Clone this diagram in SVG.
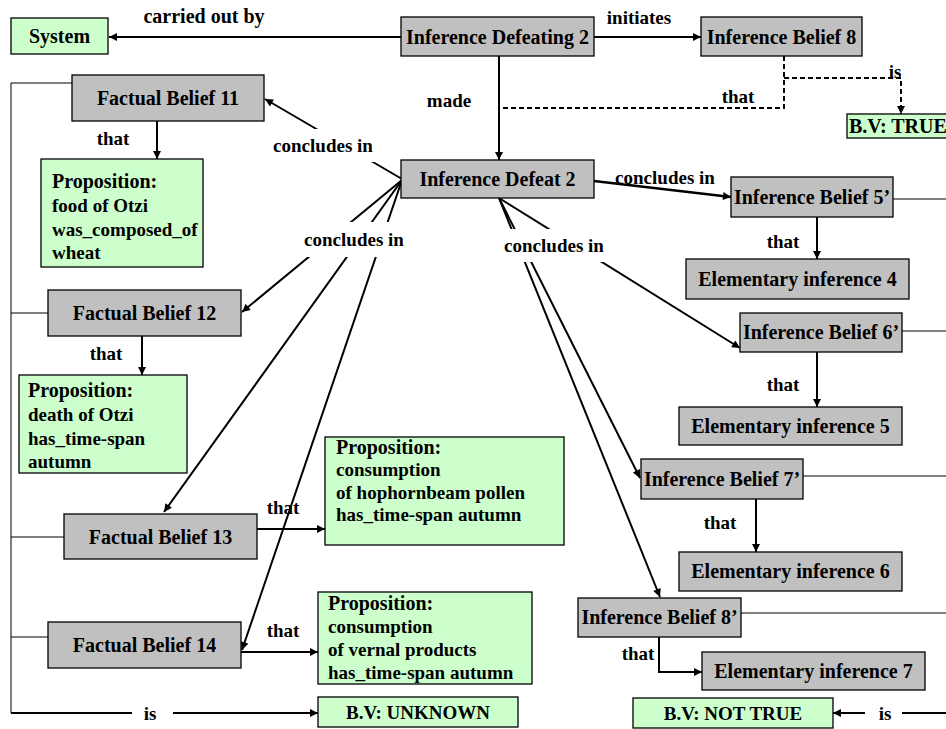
<svg xmlns="http://www.w3.org/2000/svg" width="946" height="729" viewBox="0 0 946 729">
  <defs>
    <marker id="arrow" viewBox="0 0 10 10" refX="10" refY="5" markerWidth="9" markerHeight="8" markerUnits="userSpaceOnUse" orient="auto">
      <path d="M0,0 L10,5 L0,10 z" fill="#000"/>
    </marker>
    <style>
      text { font-family: "Liberation Serif", "Times New Roman", serif; font-weight: bold; fill: #000; }
      .node { font-size: 20px; text-anchor: middle; }
      .prop { font-size: 19px; }
      .prop .head { font-size: 20px; }
      .lbl { font-size: 19px; }
      .bv { font-size: 19px; text-anchor: middle; }
      .grey { fill: #c0c0c0; stroke: #000; stroke-width: 1.3; }
      .green { fill: #ccffcc; stroke: #000; stroke-width: 1.3; }
      .edge { fill: none; stroke: #000; stroke-width: 2; }
      .arr { marker-end: url(#arrow); }
      .thin { fill: none; stroke: #000; stroke-width: 1; }
      .dash { fill: none; stroke: #000; stroke-width: 2; stroke-dasharray: 5 3; }
      .gap { fill: #fff; stroke: none; }
    </style>
  </defs>

  <rect width="946" height="729" fill="#fff"/>

  <!-- connectors -->
  <g id="connectors">
    <!-- bracket on the left joining the factual beliefs -->
    <path class="thin" d="M72,83 H11 V713"/>
    <path class="thin" d="M48,313 H11"/>
    <path class="thin" d="M64,537 H11"/>
    <path class="thin" d="M48,637 H11"/>
    <path class="edge arr" d="M11,713 H318"/>

    <!-- lines leaving the inference beliefs to the right -->
    <path class="thin" d="M893,199 H946"/>
    <path class="thin" d="M902,331 H946"/>
    <path class="thin" d="M803,476 H946"/>
    <path class="thin" d="M741,613 H946"/>
    <path class="edge arr" d="M946,713 H833"/>

    <!-- top row -->
    <path class="edge arr" d="M401,37 H109"/>
    <path class="edge arr" d="M594,37 H701"/>
    <path class="edge arr" d="M499,56 V160"/>

    <!-- dashed links from Inference Belief 8 -->
    <path class="dash" d="M784,56 V108 H499"/>
    <path class="dash arr" d="M784,78 H901 V114"/>

    <!-- fan from Inference Defeat 2 to the factual beliefs -->
    <path class="edge arr" d="M402,179 L265,99"/>
    <path class="edge arr" d="M402,180 L242,312"/>
    <path class="edge arr" d="M402,180 L164,512"/>
    <path class="edge arr" d="M402,180 L242,650"/>

    <!-- fan from Inference Defeat 2 to the inference beliefs -->
    <path class="edge arr" d="M594,181 L731,197" style="stroke-width:2.5"/>
    <path class="edge arr" d="M499,198 L740,348"/>
    <path class="edge arr" d="M499,198 L640,478"/>
    <path class="edge arr" d="M499,198 L660,597"/>

    <!-- "that" links -->
    <path class="edge arr" d="M157,121 V159"/>
    <path class="edge arr" d="M142,336 V375"/>
    <path class="edge arr" d="M257,529 H325"/>
    <path class="edge arr" d="M241,652 H318"/>
    <path class="edge arr" d="M817,217 V259"/>
    <path class="edge arr" d="M817,352 V407"/>
    <path class="edge arr" d="M756,499 V552"/>
    <path class="edge arr" d="M659,637 V672 H702"/>

    <!-- label backgrounds that break the lines -->
    <rect class="gap" x="272" y="129" width="104" height="33"/>
    <rect class="gap" x="301" y="222" width="106" height="35"/>
    <rect class="gap" x="501" y="229" width="106" height="33"/>
    <rect class="gap" x="132" y="705" width="41" height="16"/>
    <rect class="gap" x="865" y="705" width="37" height="16"/>

    <!-- connector labels -->
    <text class="lbl" x="204" y="23" text-anchor="middle" style="font-size:20px">carried out by</text>
    <text class="lbl" x="639" y="24" text-anchor="middle">initiates</text>
    <text class="lbl" x="449" y="107" text-anchor="middle">made</text>
    <text class="lbl" x="738" y="103" text-anchor="middle">that</text>
    <text class="lbl" x="895" y="78" text-anchor="middle">is</text>
    <text class="lbl" x="323" y="152" text-anchor="middle">concludes in</text>
    <text class="lbl" x="354" y="246" text-anchor="middle">concludes in</text>
    <text class="lbl" x="554" y="252" text-anchor="middle">concludes in</text>
    <text class="lbl" x="665" y="184" text-anchor="middle">concludes in</text>
    <text class="lbl" x="113" y="145" text-anchor="middle">that</text>
    <text class="lbl" x="106" y="360" text-anchor="middle">that</text>
    <text class="lbl" x="283" y="514" text-anchor="middle">that</text>
    <text class="lbl" x="283" y="637" text-anchor="middle">that</text>
    <text class="lbl" x="783" y="248" text-anchor="middle">that</text>
    <text class="lbl" x="783" y="391" text-anchor="middle">that</text>
    <text class="lbl" x="720" y="529" text-anchor="middle">that</text>
    <text class="lbl" x="638" y="660" text-anchor="middle">that</text>
    <text class="lbl" x="150" y="720" text-anchor="middle">is</text>
    <text class="lbl" x="885" y="720" text-anchor="middle">is</text>
  </g>

  <!-- nodes -->
  <g id="system">
    <rect class="green" x="11" y="18" width="97" height="36"/>
    <text class="node" x="59.5" y="43">System</text>
  </g>
  <g id="inference-defeating-2">
    <rect class="grey" x="401" y="17" width="193" height="39"/>
    <text class="node" x="497.5" y="43.5">Inference Defeating 2</text>
  </g>
  <g id="inference-belief-8">
    <rect class="grey" x="701" y="17" width="161" height="39"/>
    <text class="node" x="781.5" y="43.5">Inference Belief 8</text>
  </g>
  <g id="bv-true">
    <rect class="green" x="847" y="114" width="113" height="24"/>
    <text class="node" x="849" y="133" text-anchor="start" style="text-anchor:start">B.V: TRUE</text>
  </g>
  <g id="inference-defeat-2">
    <rect class="grey" x="401" y="160" width="193" height="38"/>
    <text class="node" x="497.5" y="186">Inference Defeat 2</text>
  </g>

  <g id="factual-belief-11">
    <rect class="grey" x="72" y="75" width="192" height="46"/>
    <text class="node" x="168" y="105">Factual Belief 11</text>
  </g>
  <g id="proposition-food">
    <rect class="green" x="41" y="159" width="162" height="108"/>
    <text class="prop" x="52">
      <tspan class="head" x="52" y="188">Proposition:</tspan>
      <tspan x="52" y="212">food of Otzi</tspan>
      <tspan x="52" y="236">was_composed_of</tspan>
      <tspan x="52" y="259">wheat</tspan>
    </text>
  </g>
  <g id="factual-belief-12">
    <rect class="grey" x="48" y="290" width="193" height="46"/>
    <text class="node" x="144.5" y="320">Factual Belief 12</text>
  </g>
  <g id="proposition-death">
    <rect class="green" x="19" y="375" width="168" height="98"/>
    <text class="prop" x="28">
      <tspan class="head" x="28" y="397">Proposition:</tspan>
      <tspan x="28" y="421">death of Otzi</tspan>
      <tspan x="28" y="445">has_time-span</tspan>
      <tspan x="28" y="468">autumn</tspan>
    </text>
  </g>
  <g id="factual-belief-13">
    <rect class="grey" x="64" y="514" width="193" height="45"/>
    <text class="node" x="160.5" y="544">Factual Belief 13</text>
  </g>
  <g id="proposition-hophornbeam">
    <rect class="green" x="325" y="437" width="239" height="108"/>
    <text class="prop" x="336">
      <tspan class="head" x="336" y="454">Proposition:</tspan>
      <tspan x="336" y="476">consumption</tspan>
      <tspan x="336" y="499">of hophornbeam pollen</tspan>
      <tspan x="336" y="521">has_time-span autumn</tspan>
    </text>
  </g>
  <g id="factual-belief-14">
    <rect class="grey" x="48" y="622" width="193" height="46"/>
    <text class="node" x="144.5" y="652">Factual Belief 14</text>
  </g>
  <g id="proposition-vernal">
    <rect class="green" x="318" y="592" width="214" height="92"/>
    <text class="prop" x="328">
      <tspan class="head" x="328" y="610">Proposition:</tspan>
      <tspan x="328" y="633">consumption</tspan>
      <tspan x="328" y="656">of vernal products</tspan>
      <tspan x="328" y="679">has_time-span autumn</tspan>
    </text>
  </g>
  <g id="bv-unknown">
    <rect class="green" x="318" y="697" width="200" height="30"/>
    <text class="bv" x="418" y="719">B.V: UNKNOWN</text>
  </g>

  <g id="inference-belief-5">
    <rect class="grey" x="731" y="177" width="162" height="40"/>
    <text class="node" x="812" y="204">Inference Belief 5’</text>
  </g>
  <g id="elementary-inference-4">
    <rect class="grey" x="686" y="259" width="223" height="40"/>
    <text class="node" x="797.5" y="286">Elementary inference 4</text>
  </g>
  <g id="inference-belief-6">
    <rect class="grey" x="740" y="313" width="162" height="39"/>
    <text class="node" x="821" y="339">Inference Belief 6’</text>
  </g>
  <g id="elementary-inference-5">
    <rect class="grey" x="679" y="407" width="223" height="38"/>
    <text class="node" x="790.5" y="433">Elementary inference 5</text>
  </g>
  <g id="inference-belief-7">
    <rect class="grey" x="641" y="459" width="162" height="40"/>
    <text class="node" x="722" y="486">Inference Belief 7’</text>
  </g>
  <g id="elementary-inference-6">
    <rect class="grey" x="679" y="552" width="223" height="39"/>
    <text class="node" x="790.5" y="578">Elementary inference 6</text>
  </g>
  <g id="inference-belief-8-prime">
    <rect class="grey" x="578" y="598" width="163" height="39"/>
    <text class="node" x="659.5" y="624">Inference Belief 8’</text>
  </g>
  <g id="elementary-inference-7">
    <rect class="grey" x="702" y="652" width="223" height="38"/>
    <text class="node" x="813.5" y="678">Elementary inference 7</text>
  </g>
  <g id="bv-not-true">
    <rect class="green" x="633" y="698" width="200" height="30"/>
    <text class="bv" x="733" y="720">B.V: NOT TRUE</text>
  </g>
</svg>
